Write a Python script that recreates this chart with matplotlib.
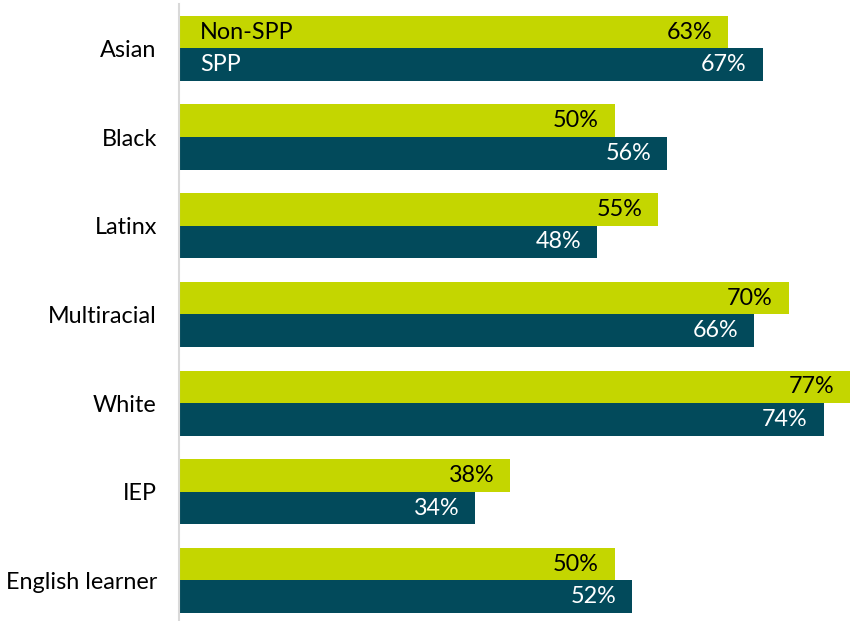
import matplotlib
matplotlib.use("Agg")
import matplotlib.pyplot as plt
import numpy as np

categories = ["Asian", "Black", "Latinx", "Multiracial", "White", "IEP", "English learner"]
non_spp = [63, 50, 55, 70, 77, 38, 50]
spp = [67, 56, 48, 66, 74, 34, 52]
series_names = ["Non-SPP", "SPP"]

GREEN = "#C4D600"
TEAL = "#024A5B"
FONT = "Lato"
FS = 16.8

W, H = 850, 621
fig = plt.figure(figsize=(W / 100, H / 100), dpi=100)
# axes pixel layout
left_px, right_px = 179, 850
top_px, bottom_px = 4, 621
ax = fig.add_axes([left_px / W, 1 - bottom_px / H, (right_px - left_px) / W, (bottom_px - top_px) / H])

y = np.arange(len(categories))
bh = 0.367
ax.barh(y - bh / 2, non_spp, height=bh, color=GREEN)
ax.barh(y + bh / 2, spp, height=bh, color=TEAL)

ax.set_xlim(0, 77)
ax.set_ylim(6.457, -0.5)

px_per_unit = (right_px - left_px) / 77.0
pad = 16 / px_per_unit
for i in range(len(categories)):
    ax.text(non_spp[i] - pad, y[i] - bh / 2, f"{non_spp[i]}%", ha="right", va="center",
            color="black", fontsize=FS, family=FONT)
    ax.text(spp[i] - pad, y[i] + bh / 2, f"{spp[i]}%", ha="right", va="center",
            color="white", fontsize=FS, family=FONT)

lpad = 21 / px_per_unit
ax.text(lpad, y[0] - bh / 2, series_names[0], ha="left", va="center", color="black", fontsize=FS, family=FONT)
ax.text(lpad, y[0] + bh / 2, series_names[1], ha="left", va="center", color="white", fontsize=FS, family=FONT)

ax.set_yticks(y)
ax.set_yticklabels(categories, fontsize=FS, family=FONT)
ax.tick_params(axis="y", length=0, pad=16)
ax.set_xticks([])
for s in ["top", "right", "bottom"]:
    ax.spines[s].set_visible(False)
ax.spines["left"].set_color("#D9D9D9")
ax.spines["left"].set_linewidth(1.5)

fig.savefig("out.png", dpi=100)
